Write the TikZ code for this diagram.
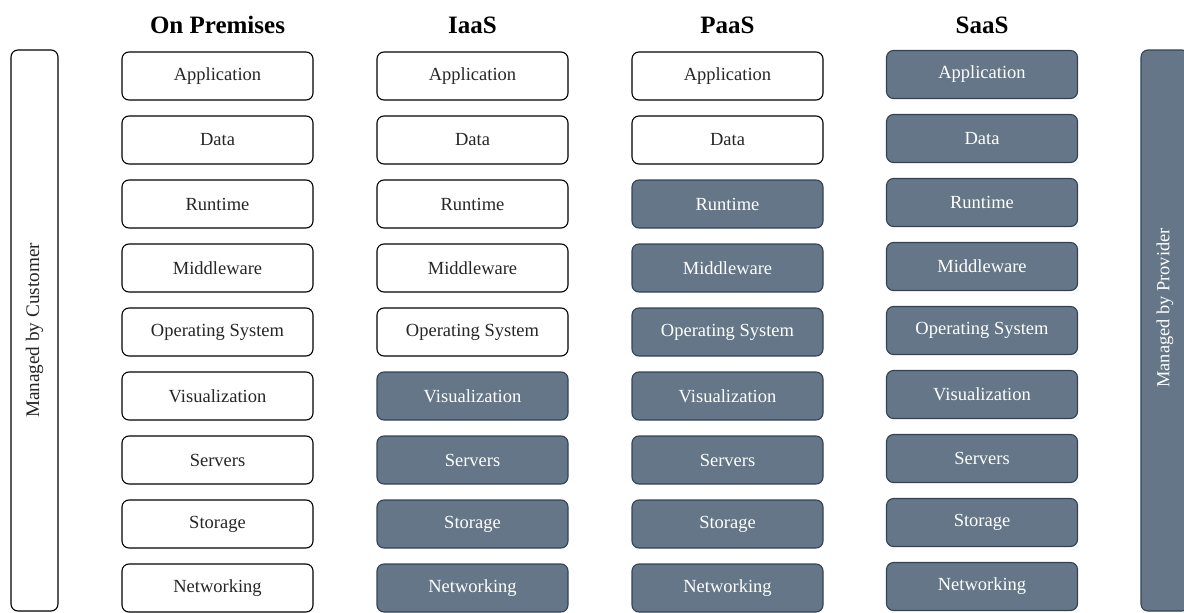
\documentclass[tikz,border=0pt]{standalone}
\usepackage{fontspec}
\setmainfont{Liberation Serif}
\definecolor{provfill}{HTML}{647687}
\definecolor{provdraw}{HTML}{314354}
\begin{document}
\begin{tikzpicture}[x=1pt,y=-1pt,
  cust/.style={draw=black, fill=white, rounded corners=7pt, line width=1.1pt,
    minimum width=191pt, minimum height=48pt, inner sep=0pt,
    font=\fontsize{18.5}{20}\selectfont, text=black!85},
  prov/.style={cust, draw=provdraw, fill=provfill, text=white},
  coltitle/.style={font=\bfseries\fontsize{25}{27}\selectfont, anchor=base, inner sep=0pt},
  custbar/.style={draw=black, fill=white, rounded corners=7pt, line width=1.1pt,
    rotate=90, minimum width=561pt, minimum height=47pt, inner sep=0pt,
    font=\fontsize{19.2}{21}\selectfont, text=black!85},
  provbar/.style={custbar, draw=provdraw, fill=provfill, minimum height=48pt},
  provlabel/.style={rotate=90, inner sep=0pt, text=white, font=\fontsize{18.4}{20}\selectfont}]
\useasboundingbox (0,0) rectangle (1184,613);
\node[coltitle] (t1) at (217.5,33) {On Premises};
\node[coltitle] (t2) at (472.5,33) {IaaS};
\node[coltitle] (t3) at (727.5,33) {PaaS};
\node[coltitle] (t4) at (982,33) {SaaS};
\node[custbar] (cbar) at (34.5,330.5) {Managed by Customer};
\node[provbar] (pbar) at (1165,330.5) {};
\node[provlabel] (plab) at (1165,308) {Managed by Provider};
\foreach \t [count=\i] in {Application,Data,Runtime,Middleware,Operating System,Visualization,Servers,Storage,Networking}{
  \pgfmathsetmacro\yy{76+64*(\i-1)}
  \pgfmathsetmacro\ys{\yy-1.5}
  \node[cust] (op\i) at (217.5,\yy) {\t};
  \ifnum\i<6 \node[cust] (ia\i) at (472.5,\yy) {\t}; \else \node[prov] (ia\i) at (472.5,\yy) {\t}; \fi
  \ifnum\i<3 \node[cust] (pa\i) at (727.5,\yy) {\t}; \else \node[prov] (pa\i) at (727.5,\yy) {\t}; \fi
  \node[prov] (sa\i) at (982,\ys) {\t};
}
\end{tikzpicture}
\end{document}
